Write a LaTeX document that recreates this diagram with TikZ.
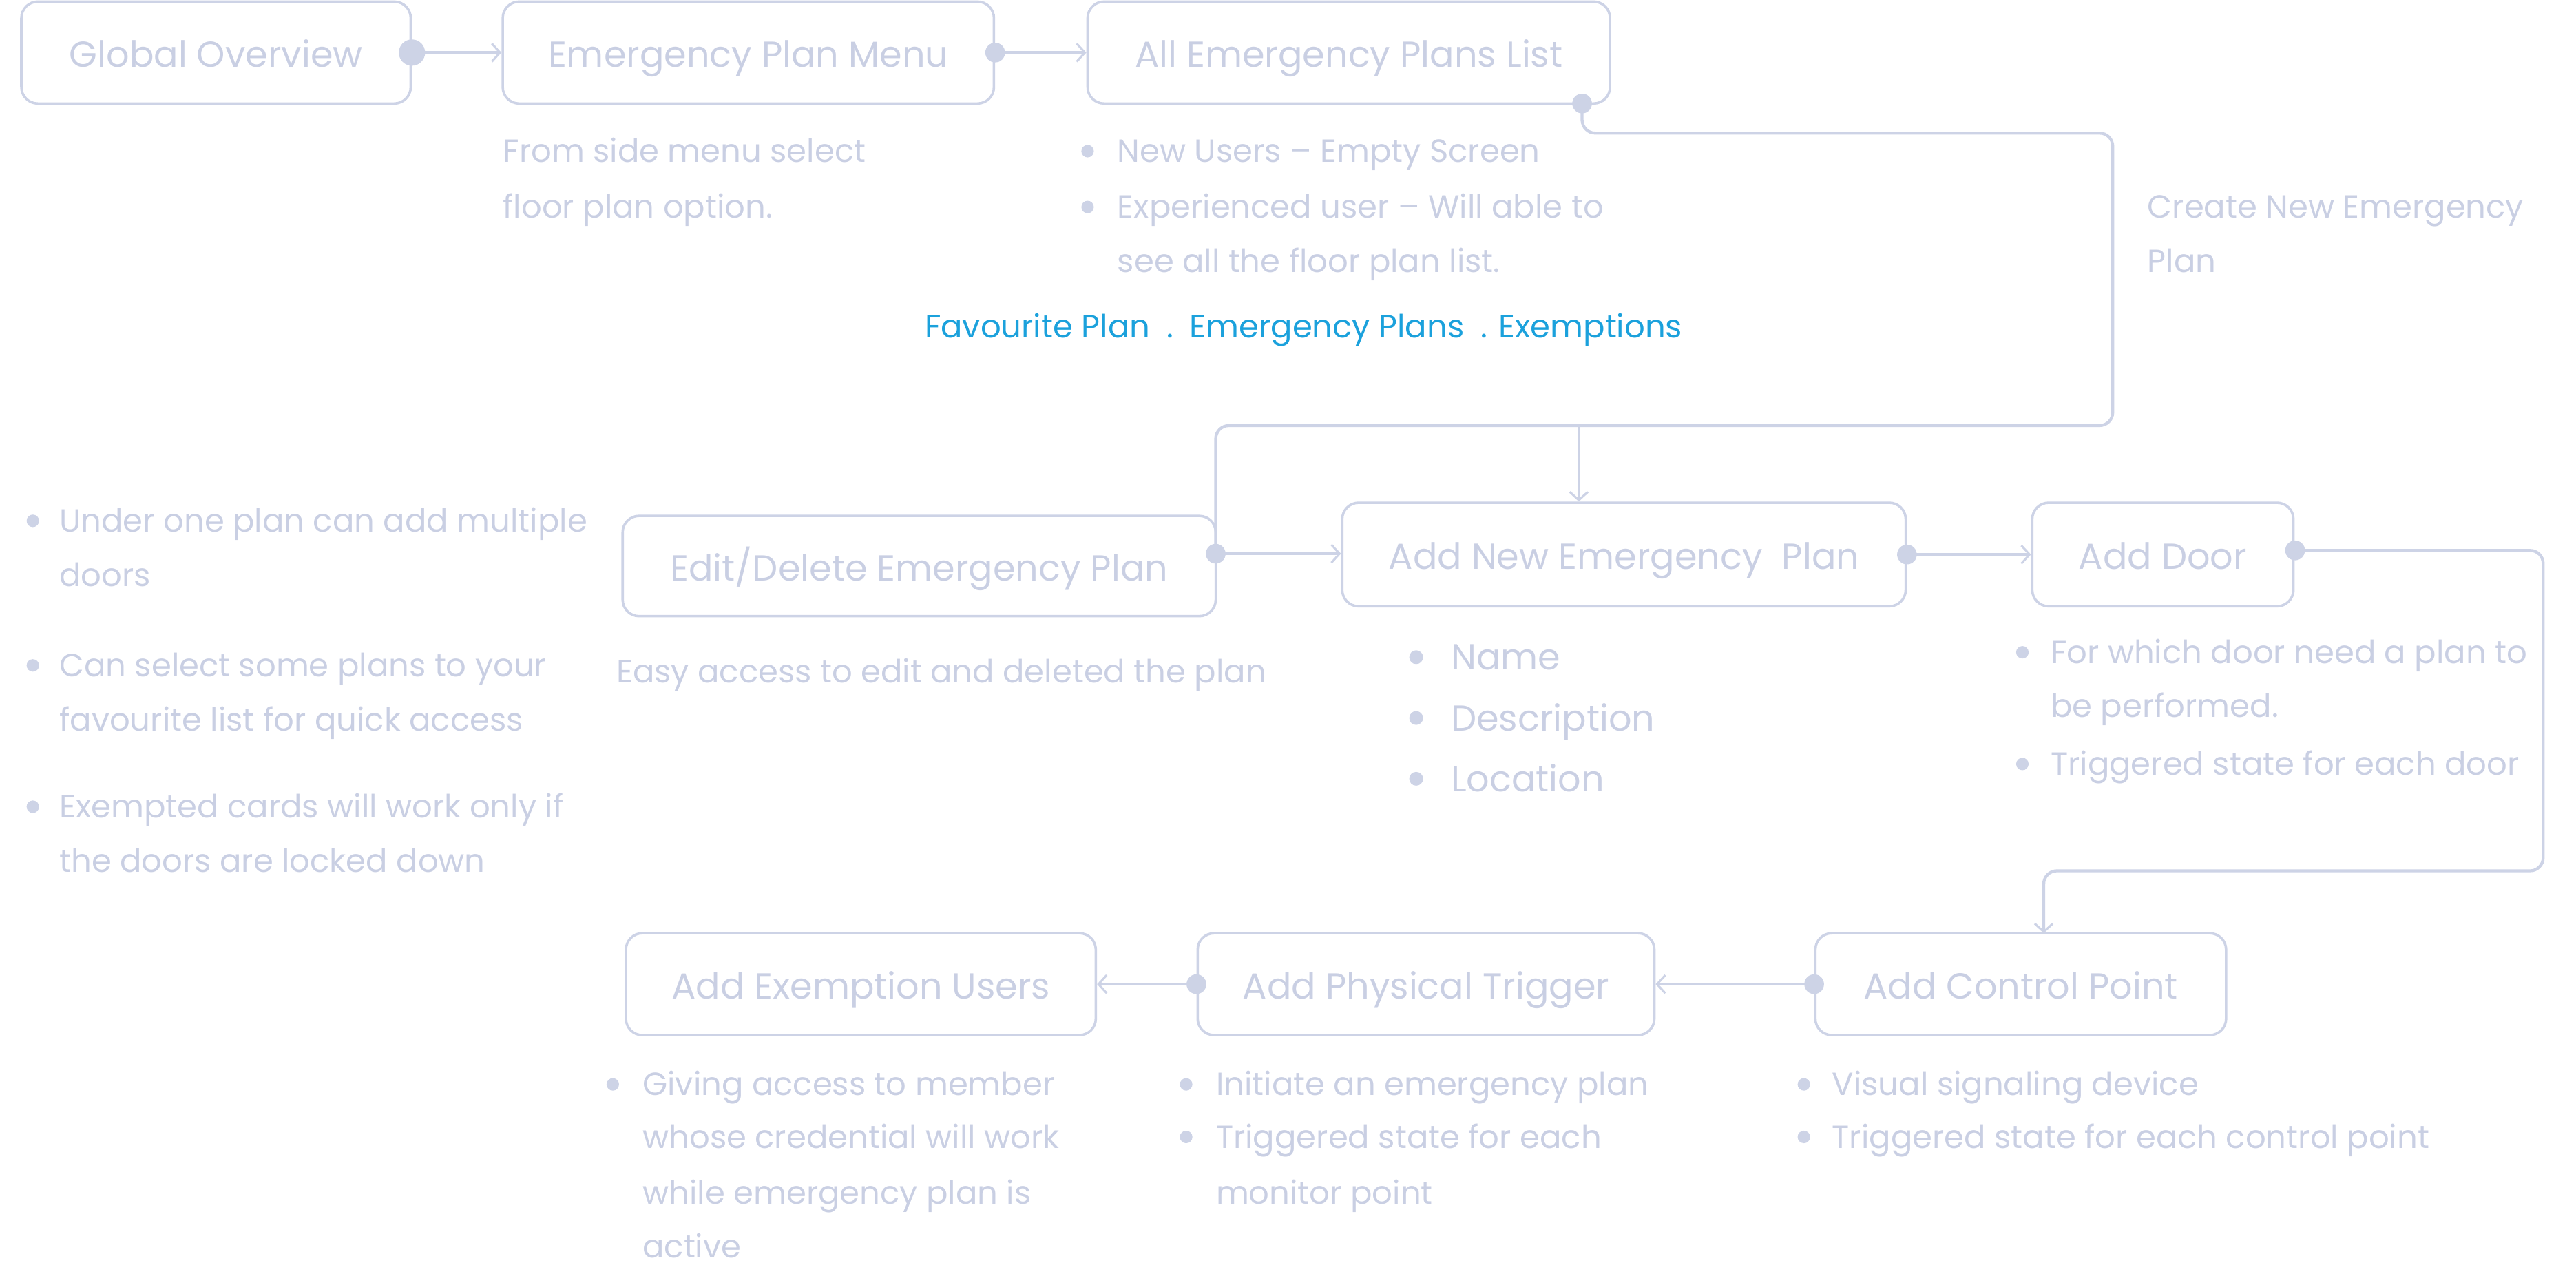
\documentclass[tikz,border=0pt]{standalone}
\usepackage{fontspec}
\setmainfont{Poppins}
\usetikzlibrary{arrows.meta}
\definecolor{ln}{HTML}{CDD3E6}
\definecolor{tx}{HTML}{C9CFE3}
\definecolor{bl}{HTML}{1BA1DC}
\tikzset{
  box/.style={draw=ln, line width=1.5pt, rounded corners=10pt, text=tx,
    font=\fontsize{22}{26}\selectfont, inner sep=0pt, align=center,
    text height=18pt, text depth=0pt},
  txt/.style={text=tx, font=\fontsize{19.5}{23}\selectfont, inner sep=0pt, anchor=mid west, yshift=-4pt},
  big/.style={text=tx, font=\fontsize{22}{26}\selectfont, inner sep=0pt, anchor=mid west, yshift=-5pt},
  conn/.style={draw=ln, line width=1.8pt, rounded corners=8pt,
    -{Straight Barb[length=5pt,width=11pt,line width=1.3pt]}},
  wire/.style={draw=ln, line width=1.8pt, rounded corners=8pt},
  dotc/.style={fill=ln},
}
\begin{document}
\begin{tikzpicture}[x=1pt,y=-1pt]
\useasboundingbox (0,0) rectangle (1568,775);

% boxes
\node[box, minimum width=237pt, minimum height=62pt] (go) at (131.5,32) {Global Overview};
\node[box, minimum width=299pt, minimum height=62pt] (epm) at (455.5,32) {Emergency Plan Menu};
\node[box, minimum width=318pt, minimum height=62pt] (all) at (821,32) {All Emergency Plans List};
\node[box, minimum width=361pt, minimum height=61pt] (edit) at (559.5,344.5) {Edit/Delete Emergency Plan};
\node[box, minimum width=343pt, minimum height=63pt] (addnew) at (988.5,337.5) {Add New Emergency\ \ Plan};
\node[box, minimum width=159pt, minimum height=63pt] (door) at (1316.5,337.5) {Add Door};
\node[box, minimum width=250pt, minimum height=62pt] (cp) at (1230,599) {Add Control Point};
\node[box, minimum width=278pt, minimum height=62pt] (pt) at (868,599) {Add Physical Trigger};
\node[box, minimum width=286pt, minimum height=62pt] (ex) at (524,599) {Add Exemption Users};

% connector coordinates
\coordinate (allout) at (963,63);
\coordinate (editin) at (740,337);
\coordinate (branch) at (961,259);
\coordinate (doorout) at (1397,335);
\coordinate (cpin) at (1244,568);

% connectors
\draw[conn] (go.east) -- (epm.west);
\draw[conn] (epm.east) -- (all.west);
\draw[wire] (allout) -- (963,81) -- (1286,81) -- (1286,259) -- (740,259) -- (editin);
\draw[conn] (branch) -- (addnew.north -| branch);
\draw[conn] (editin) -- (addnew.west |- editin);
\draw[conn] (addnew.east) -- (door.west);
\draw[conn] (doorout) -- (1548,335) -- (1548,530) -- (1244,530) -- (cpin);
\draw[conn] (cp.west) -- (pt.east);
\draw[conn] (pt.west) -- (ex.east);

% dots
\fill[dotc] (go.east) circle (8pt);
\fill[dotc] (epm.east) circle (6pt);
\fill[dotc] (allout) circle (6pt);
\fill[dotc] (editin) circle (6pt);
\fill[dotc] (addnew.east) circle (6pt);
\fill[dotc] (doorout) circle (6pt);
\fill[dotc] (cp.west) circle (6pt);
\fill[dotc] (pt.west) circle (6pt);

% texts top
\node[txt] (t1) at (306,92) {From side menu select};
\node[txt] (t2) at (306,126) {floor plan option.};
\fill[dotc] (662,92) circle (3.8pt);
\node[txt] (t3) at (680,92) {New Users – Empty Screen};
\fill[dotc] (662,126) circle (3.8pt);
\node[txt] (t4) at (680,126) {Experienced user – Will able to};
\node[txt] (t5) at (680,159) {see all the floor plan list.};
\node[txt, text=bl, anchor=mid] (blue) at (793.5,199) {Favourite Plan\hspace{10pt}.\hspace{10pt}Emergency Plans\hspace{10pt}. Exemptions};
\node[txt] (t6) at (1307,126) {Create New Emergency};
\node[txt] (t7) at (1307,159) {Plan};

% left bullets
\fill[dotc] (20,317) circle (3.8pt);
\node[txt] (l1) at (36,317) {Under one plan can add multiple};
\node[txt] (l2) at (36,350) {doors};
\fill[dotc] (20,405) circle (3.8pt);
\node[txt] (l3) at (36,405) {Can select some plans to your};
\node[txt] (l4) at (36,438) {favourite list for quick access};
\fill[dotc] (20,491) circle (3.8pt);
\node[txt] (l5) at (36,491) {Exempted cards will work only if};
\node[txt] (l6) at (36,524) {the doors are locked down};

% edit note
\node[txt] (e1) at (375,409) {Easy access to edit and deleted the plan};

% add new bullets
\fill[dotc] (862,400) circle (4.2pt);
\node[big] (n1) at (883,400) {Name};
\fill[dotc] (862,437) circle (4.2pt);
\node[big] (n2) at (883,437) {Description};
\fill[dotc] (862,474) circle (4.2pt);
\node[big] (n3) at (883,474) {Location};

% door bullets
\fill[dotc] (1231,397) circle (3.8pt);
\node[txt] (d1) at (1248,397) {For which door need a plan to};
\node[txt] (d2) at (1248,430) {be performed.};
\fill[dotc] (1231,465) circle (3.8pt);
\node[txt] (d3) at (1248,465) {Triggered state for each door};

% exemption bullets
\fill[dotc] (373,660) circle (3.8pt);
\node[txt] (x1) at (391,660) {Giving access to member};
\node[txt] (x2) at (391,692) {whose credential will work};
\node[txt] (x3) at (391,726) {while emergency plan is};
\node[txt] (x4) at (391,759) {active};

% physical trigger bullets
\fill[dotc] (722,660) circle (3.8pt);
\node[txt] (p1) at (740,660) {Initiate an emergency plan};
\fill[dotc] (722,692) circle (3.8pt);
\node[txt] (p2) at (740,692) {Triggered state for each};
\node[txt] (p3) at (740,726) {monitor point};

% control point bullets
\fill[dotc] (1098,660) circle (3.8pt);
\node[txt] (c1) at (1115,660) {Visual signaling device};
\fill[dotc] (1098,692) circle (3.8pt);
\node[txt] (c2) at (1115,692) {Triggered state for each control point};
\end{tikzpicture}
\end{document}
